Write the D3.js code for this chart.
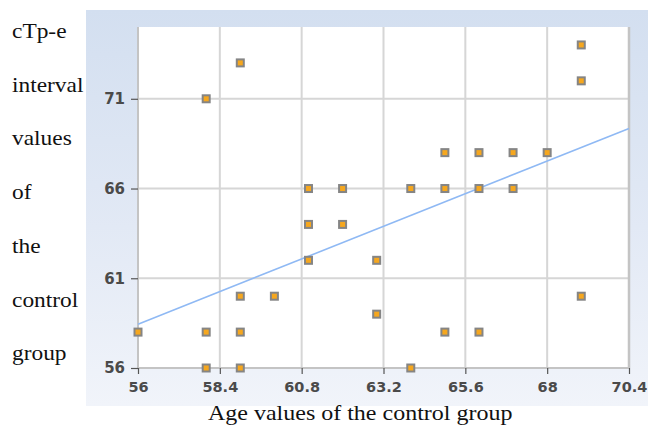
<!DOCTYPE html>
<html>
<head>
<meta charset="utf-8">
<script src="https://cdn.jsdelivr.net/npm/d3@7/dist/d3.min.js"></script>
<style>
  html, body { margin: 0; padding: 0; background: #ffffff; }
  svg { display: block; }
</style>
</head>
<body>
<svg id="chart" width="648" height="426"></svg>
<script>
// ---- data ----
const ages = [56, 58, 59, 58, 58, 59, 59, 59, 60, 61, 61, 61, 62, 62, 63, 63, 64, 64, 65, 65, 65, 66, 66, 66, 67, 67, 68, 69, 69, 69];
const ctpeValues = [58, 71, 73, 58, 56, 60, 58, 56, 60, 66, 64, 62, 66, 64, 62, 59, 66, 56, 68, 66, 58, 68, 66, 58, 68, 66, 68, 74, 72, 60];
const xTickValues = [56, 58.4, 60.8, 63.2, 65.6, 68, 70.4];
const xTickLabels = ["56", "58.4", "60.8", "63.2", "65.6", "68", "70.4"];
const yTickValues = [56, 61, 66, 71];
const yTickLabels = ["56", "61", "66", "71"];
const trendX = [56, 70.4];
const trendY = [58.44, 69.35];
const yTitleWords = ["cTp-e", "interval", "values", "of", "the", "control", "group"];
const xTitle = "Age values of the control group";

// ---- layout ----
const svg = d3.select("#chart");
const panel = { x0: 86, y0: 10, x1: 648, y1: 406 };
const plot = { left: 138, right: 629, top: 27, bottom: 368 };

const x = d3.scaleLinear().domain([56, 70.4]).range([plot.left, plot.right]);
const y = d3.scaleLinear().domain([56, 75]).range([plot.bottom, plot.top]);

const defs = svg.append("defs");
const grad = defs.append("linearGradient").attr("id", "panelGrad")
  .attr("x1", 0).attr("y1", 0).attr("x2", 0).attr("y2", 1);
grad.append("stop").attr("offset", "0%").attr("stop-color", "#d3dff0");
grad.append("stop").attr("offset", "55%").attr("stop-color", "#e2e9f5");
grad.append("stop").attr("offset", "100%").attr("stop-color", "#f1f4fa");

svg.append("rect")
  .attr("x", panel.x0).attr("y", panel.y0)
  .attr("width", panel.x1 - panel.x0).attr("height", panel.y1 - panel.y0)
  .attr("fill", "url(#panelGrad)");

svg.append("rect")
  .attr("x", plot.left).attr("y", plot.top)
  .attr("width", plot.right - plot.left).attr("height", plot.bottom - plot.top)
  .attr("fill", "#ffffff");

// grid lines
svg.append("g")
  .selectAll("line.h")
  .data(yTickValues.filter(v => v !== 56))
  .join("line")
  .attr("x1", plot.left).attr("x2", plot.right)
  .attr("y1", d => y(d)).attr("y2", d => y(d))
  .attr("stroke", "#d6d6d6").attr("stroke-width", 2);

svg.append("g")
  .selectAll("line.v")
  .data(xTickValues.filter(v => v !== 56 && v !== 70.4))
  .join("line")
  .attr("x1", d => x(d)).attr("x2", d => x(d))
  .attr("y1", plot.top).attr("y2", plot.bottom)
  .attr("stroke", "#d6d6d6").attr("stroke-width", 2);

// frame lines
svg.append("line").attr("x1", plot.left).attr("x2", plot.left)
  .attr("y1", plot.top).attr("y2", plot.bottom)
  .attr("stroke", "#c4c4c4").attr("stroke-width", 2);
svg.append("line").attr("x1", plot.right).attr("x2", plot.right)
  .attr("y1", plot.top).attr("y2", plot.bottom)
  .attr("stroke", "#c4c4c4").attr("stroke-width", 2.5);
svg.append("line").attr("x1", plot.left).attr("x2", plot.right)
  .attr("y1", plot.bottom).attr("y2", plot.bottom)
  .attr("stroke", "#c4c4c4").attr("stroke-width", 2);

// axes
const tickFont = "'DejaVu Sans', Verdana, sans-serif";
const xAxis = d3.axisBottom(x).tickValues(xTickValues)
  .tickFormat((d, i) => xTickLabels[i]).tickSize(6).tickPadding(8);
const gx = svg.append("g").attr("transform", `translate(0,${plot.bottom})`).call(xAxis);
gx.select(".domain").remove();
gx.selectAll(".tick line").attr("stroke", "#555").attr("stroke-width", 1.2);
gx.selectAll(".tick text")
  .attr("font-family", tickFont).attr("font-weight", "bold").attr("font-size", 14.5)
  .attr("fill", "#4a4a4a");

const yAxis = d3.axisLeft(y).tickValues(yTickValues)
  .tickFormat((d, i) => yTickLabels[i]).tickSize(7).tickPadding(6);
const gy = svg.append("g").attr("transform", `translate(${plot.left},0)`).call(yAxis);
gy.select(".domain").remove();
gy.selectAll(".tick line").attr("stroke", "#555").attr("stroke-width", 1.2);
gy.selectAll(".tick text")
  .attr("font-family", tickFont).attr("font-weight", "bold").attr("font-size", 15)
  .attr("fill", "#4a4a4a");

// trend line
svg.append("path")
  .datum(trendX.map((v, i) => [v, trendY[i]]))
  .attr("d", d3.line().x(d => x(d[0])).y(d => y(d[1])))
  .attr("fill", "none").attr("stroke", "#8fb9f4").attr("stroke-width", 1.6);

// points
const pts = ages.map((a, i) => ({ a, v: ctpeValues[i] }));
svg.append("g").selectAll("rect")
  .data(pts)
  .join("rect")
  .attr("x", d => x(d.a) - 3.5).attr("y", d => y(d.v) - 3.5)
  .attr("width", 7).attr("height", 7)
  .attr("fill", "#f6a71e").attr("stroke", "#858585").attr("stroke-width", 2);

// y title (stacked words)
const serif = "'Liberation Serif', 'Times New Roman', serif";
const yTitleBaselines = [38, 92, 145, 199, 253, 307, 360];
svg.append("g").selectAll("text")
  .data(yTitleWords)
  .join("text")
  .attr("transform", (d, i) => `translate(12,${yTitleBaselines[i]}) scale(1.17,1)`)
  .attr("font-family", serif).attr("font-size", 20).attr("fill", "#111")
  .text(d => d);

// x title
svg.append("text")
  .attr("transform", `translate(208,420) scale(1.2,1)`)
  .attr("font-family", serif).attr("font-size", 20).attr("fill", "#111")
  .text(xTitle);
</script>
</body>
</html>
